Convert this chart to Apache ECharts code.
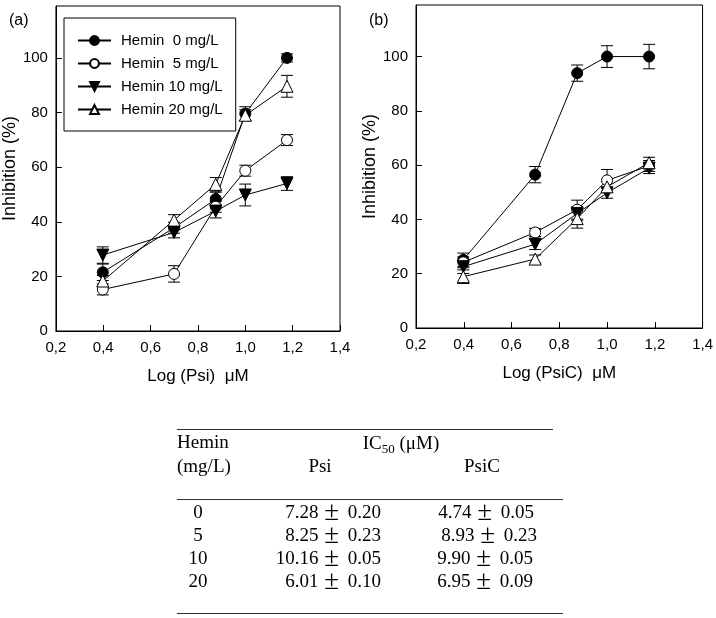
<!DOCTYPE html>
<html><head><meta charset="utf-8">
<script src="https://cdn.jsdelivr.net/npm/echarts@6/dist/echarts.min.js"></script>
<style>html,body{margin:0;padding:0;background:#fff}#c{width:716px;height:618px}</style>
</head><body><div id="c"></div>
<script>
// ---- data ----
const logX = [0.398, 0.699, 0.875, 1.0, 1.176];
const seriesNames = ['Hemin  0 mg/L', 'Hemin  5 mg/L', 'Hemin 10 mg/L', 'Hemin 20 mg/L'];
// Panel (a): Psi
const psiH0 = [21.5, 37.8, 48.3, 79.6, 100];
const psiH0Err = [3, 2, 2.5, 2.5, 1.5];
const psiH5 = [15.2, 20.9, 45.5, 58.7, 69.9];
const psiH5Err = [2, 3, 2, 2, 2];
const psiH10 = [27.8, 36.1, 43.9, 49.8, 54.0];
const psiH10Err = [3, 2, 2.5, 4, 2.5];
const psiH20 = [18.3, 40.6, 53.7, 79.0, 89.6];
const psiH20Err = [2, 2, 2.5, 2, 4];
// Panel (b): PsiC
const psicH0 = [25.1, 56.5, 93.9, 100, 100];
const psicH0Err = [2.5, 3, 3, 4, 4.5];
const psicH5 = [24.2, 35.2, 43.6, 54.4, 59.7];
const psicH5Err = [2, 1.5, 3.5, 4, 2];
const psicH10 = [22.6, 30.9, 42.2, 49.8, 58.9];
const psicH10Err = [2.5, 2, 2.5, 2, 2];
const psicH20 = [18.9, 25.4, 40.3, 52.0, 60.9];
const psicH20Err = [2.5, 1.5, 3.5, 2, 2];
// Table
const tableHemin = ['0', '5', '10', '20'];
const tablePsiMean = ['7.28', '8.25', '10.16', '6.01'];
const tablePsiSD = ['0.20', '0.23', '0.05', '0.10'];
const tablePsiCMean = ['4.74', '8.93', '9.90', '6.95'];
const tablePsiCSD = ['0.05', '0.23', '0.05', '0.09'];

// ---- styling ----
const sans = "'Liberation Sans', Arial, sans-serif";
const serif = "'Liberation Serif', 'Times New Roman', serif";
const markerStyles = [
  {symbol: 'circle', size: 11, rotate: 0, fill: '#000'},
  {symbol: 'circle', size: 11, rotate: 0, fill: '#fff'},
  {symbol: 'triangle', size: 12, rotate: 180, fill: '#000'},
  {symbol: 'triangle', size: 12, rotate: 0, fill: '#fff'}
];

function xAxisCfg(gi, name) {
  return {
    type: 'value', gridIndex: gi, min: 0.2, max: 1.4, interval: 0.2,
    name: name, nameLocation: 'middle', nameGap: 37,
    nameTextStyle: {fontFamily: sans, fontSize: 17, color: '#000'},
    axisLine: {lineStyle: {color: '#000', width: 1}},
    axisTick: {inside: true, length: 6, lineStyle: {color: '#000'}},
    axisLabel: {fontFamily: sans, fontSize: 15, color: '#000', margin: 9,
      formatter: v => v.toFixed(1).replace('.', ',')},
    splitLine: {show: false}
  };
}
function yAxisCfg(gi) {
  return {
    type: 'value', gridIndex: gi, min: 0, max: 119, interval: 20,
    name: 'Inhibition (%)', nameLocation: 'middle', nameGap: 34,
    nameTextStyle: {fontFamily: sans, fontSize: 18, color: '#000'},
    axisLine: {lineStyle: {color: '#000', width: 1}},
    axisTick: {inside: true, length: 6, lineStyle: {color: '#000'}},
    axisLabel: {fontFamily: sans, fontSize: 15, color: '#000', margin: 8, showMaxLabel: false,
      formatter: v => (v % 20 === 0 ? String(v) : '')},
    splitLine: {show: false}
  };
}

function errRender(params, api) {
  const x = api.value(0), lo = api.value(1), hi = api.value(2);
  const p1 = api.coord([x, lo]), p2 = api.coord([x, hi]);
  const w = 6;
  const st = {stroke: '#000', lineWidth: 1};
  return {type: 'group', children: [
    {type: 'line', shape: {x1: p1[0], y1: p1[1], x2: p2[0], y2: p2[1]}, style: st},
    {type: 'line', shape: {x1: p1[0] - w, y1: p1[1], x2: p1[0] + w, y2: p1[1]}, style: st},
    {type: 'line', shape: {x1: p2[0] - w, y1: p2[1], x2: p2[0] + w, y2: p2[1]}, style: st}
  ]};
}

const panels = [
  {vals: [psiH0, psiH5, psiH10, psiH20], errs: [psiH0Err, psiH5Err, psiH10Err, psiH20Err]},
  {vals: [psicH0, psicH5, psicH10, psicH20], errs: [psicH0Err, psicH5Err, psicH10Err, psicH20Err]}
];

const series = [];
panels.forEach((p, gi) => {
  p.vals.forEach((v, si) => {
    series.push({
      type: 'custom', xAxisIndex: gi, yAxisIndex: gi, renderItem: errRender,
      encode: {x: 0, y: [1, 2]}, silent: true, z: 2,
      data: logX.map((x, i) => [x, v[i] - p.errs[si][i], v[i] + p.errs[si][i]])
    });
  });
  p.vals.forEach((v, si) => {
    const m = markerStyles[si];
    series.push({
      type: 'line', name: seriesNames[si], xAxisIndex: gi, yAxisIndex: gi, z: 3 + si,
      data: logX.map((x, i) => [x, v[i]]),
      symbol: m.symbol, symbolSize: m.size, symbolRotate: m.rotate, showAllSymbol: true,
      lineStyle: {color: '#000', width: 1},
      itemStyle: {color: m.fill, borderColor: '#000', borderWidth: 1, opacity: 1},
      emphasis: {disabled: true}
    });
  });
});

// table graphics
const g = [];
const TFS = 19;
function txt(x, y, text, align) {
  g.push({type: 'text', x: x, y: y, style: {text: text, fontFamily: serif, fontSize: TFS, fill: '#000',
    textAlign: align || 'left', textVerticalAlign: 'middle'}});
}
function pmTxt(x, y, mean, sd) {
  g.push({type: 'text', x: x, y: y, style: {
    text: '{n|' + mean + ' }{pm|\u00b1}{n| ' + sd + '}', textAlign: 'right', textVerticalAlign: 'middle',
    rich: {n: {fontFamily: serif, fontSize: TFS, fill: '#000', lineHeight: 24},
           pm: {fontFamily: serif, fontSize: 27, fill: '#000', lineHeight: 24, padding: [0, 4, 0, 1]}}
  }});
}
function hline(x1, x2, y) {
  g.push({type: 'line', shape: {x1: x1, y1: y, x2: x2, y2: y}, style: {stroke: '#333', lineWidth: 1}});
}
// panel labels
g.push({type: 'text', x: 9, y: 21, style: {text: '(a)', fontFamily: sans, fontSize: 16, fill: '#000', textVerticalAlign: 'middle'}});
g.push({type: 'text', x: 369, y: 21, style: {text: '(b)', fontFamily: sans, fontSize: 16, fill: '#000', textVerticalAlign: 'middle'}});
hline(177, 553, 429.5);
hline(177, 563, 499.5);
hline(177, 563, 613.5);
txt(177, 443, 'Hemin');
txt(177, 467, '(mg/L)');
g.push({type: 'text', x: 401, y: 444, style: {
  text: '{a|IC}{s|50}{a| (\u03bcM)}', textAlign: 'center', textVerticalAlign: 'middle',
  rich: {a: {fontFamily: serif, fontSize: TFS, fill: '#000', lineHeight: 22},
         s: {fontFamily: serif, fontSize: 13, fill: '#000', lineHeight: 22, padding: [11, 0, 0, 0]}}
}});
txt(320, 467, 'Psi', 'center');
txt(482, 467, 'PsiC', 'center');
const rowY = [513, 536, 559, 582];
const psiCRight = [534, 537, 533, 533];
tableHemin.forEach((h, i) => {
  txt(198, rowY[i], h, 'center');
  pmTxt(381, rowY[i], tablePsiMean[i], tablePsiSD[i]);
  pmTxt(psiCRight[i], rowY[i], tablePsiCMean[i], tablePsiCSD[i]);
});

const chart = echarts.init(document.getElementById('c'), null, {renderer: 'canvas'});
chart.setOption({
  animation: false,
  backgroundColor: '#fff',
  grid: [
    {left: 53, top: 6, width: 287, height: 325, show: true, borderColor: '#000', borderWidth: 1, containLabel: false},
    {left: 416, top: 5, width: 287, height: 323, show: true, borderColor: '#000', borderWidth: 1, containLabel: false}
  ],
  xAxis: [xAxisCfg(0, 'Log (Psi)  \u03bcM'), xAxisCfg(1, 'Log (PsiC)  \u03bcM')],
  yAxis: [yAxisCfg(0), yAxisCfg(1)],
  legend: {
    data: seriesNames, orient: 'vertical', left: 64, top: 18,
    padding: [15, 13, 14, 13], itemGap: 8, itemWidth: 33, itemHeight: 11,
    borderColor: '#000', borderWidth: 1, backgroundColor: '#fff',
    textStyle: {fontFamily: sans, fontSize: 15, color: '#000', padding: [0, 0, 0, 5]},
    selectedMode: false
  },
  graphic: g,
  series: series
});
</script></body></html>
